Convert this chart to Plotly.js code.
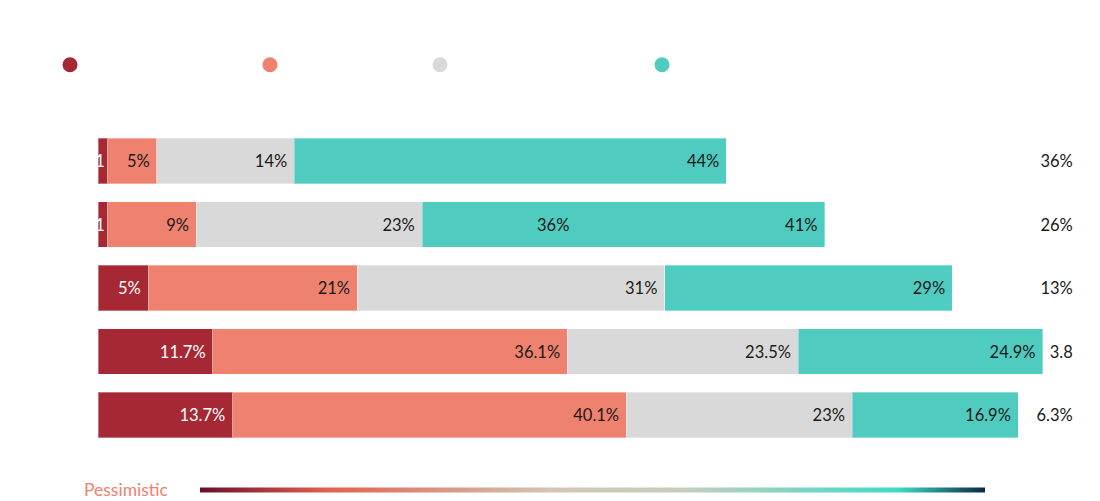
<!DOCTYPE html>
<html>
<head>
<meta charset="utf-8">
<script src="https://cdn.plot.ly/plotly-3.0.1.min.js"></script>
<style>html,body{margin:0;padding:0;background:#fff;}#chart{width:1100px;height:501px;}</style>
</head>
<body>
<div id="chart"></div>
<script>
// ---- data ----
const rows = ["Group 1", "Group 2", "Group 3", "Group 4", "Group 5"];
const seriesNames = ["Very pessimistic", "Pessimistic", "Neutral", "Optimistic"];
const veryPessimistic = [1, 1, 5.1, 11.7, 13.7];
const pessimistic = [5, 9, 21.3, 36.1, 40.1];
const neutral = [14, 23, 31.3, 23.5, 23];
const optimistic = [44, 41, 29.3, 24.9, 16.9];
const remainder = [36, 26, 13, 3.8, 6.3];
const veryPessimisticLabels = ["1", "1", "5%", "11.7%", "13.7%"];
const pessimisticLabels = ["5%", "9%", "21%", "36.1%", "40.1%"];
const neutralLabels = ["14%", "23%", "31%", "23.5%", "23%"];
const optimisticLabels = ["44%", "41%", "29%", "24.9%", "16.9%"];
const remainderLabels = ["36%", "26%", "13%", "3.8", "6.3%"];
// extra label that appears inside the teal bar of the second row
const extraLabelText = "36%";
const extraLabelRow = 1;
const extraLabelValue = 48.2;
const scaleLabel = "Pessimistic";

// ---- styles ----
const colors = ["#a52834", "#ee826e", "#d9d9d9", "#4fcbc0"];
const FONT = "Lato, 'Open Sans', sans-serif";
const LABEL_SIZE = 16.5;
const W = 1100, H = 501;
const PAD = "\u00a0";

function barTrace(vals, labels, color, textColor, name, padded) {
  return {
    type: "bar", orientation: "h", y: rows, x: vals,
    text: labels.map((t, i) => padded[i] ? t + PAD : t), name: name,
    textposition: "inside", insidetextanchor: "end", constraintext: "none",
    textangle: 0, cliponaxis: false,
    insidetextfont: {color: textColor, size: LABEL_SIZE, family: FONT},
    marker: {color: color, line: {color: "rgba(255,255,255,0.35)", width: 1}},
    showlegend: false, hoverinfo: "skip"
  };
}
const all = rows.map(() => true);
const data = [
  barTrace(veryPessimistic, veryPessimisticLabels, colors[0], "#ffffff", seriesNames[0], veryPessimistic.map(v => v > 3)),
  barTrace(pessimistic, pessimisticLabels, colors[1], "#1a1a1a", seriesNames[1], all),
  barTrace(neutral, neutralLabels, colors[2], "#1a1a1a", seriesNames[2], all),
  barTrace(optimistic, optimisticLabels, colors[3], "#1a1a1a", seriesNames[3], all),
  barTrace(remainder, remainderLabels, "rgba(255,255,255,0)", "#1a1a1a", "Other", all)
];
data[4].marker.line.width = 0;

// legend dots (one legend per item so each can sit at its own place)
const legendX = [70, 270, 440, 662];
const legendIds = ["legend", "legend2", "legend3", "legend4"];
seriesNames.forEach((n, i) => {
  data.push({
    type: "scatter", mode: "markers", x: [null], y: [null], name: n,
    marker: {color: colors[i], size: 15, symbol: "circle"},
    legend: legendIds[i], showlegend: true, hoverinfo: "skip"
  });
});

// gradient scale bar via a horizontal colorbar
data.push({
  type: "scatter", mode: "markers", x: [null, null], y: [null, null],
  showlegend: false, hoverinfo: "skip",
  marker: {
    color: [0, 1], cmin: 0, cmax: 1, showscale: true,
    colorscale: [[0, "#6a0c2d"], [0.16, "#e3604c"], [0.45, "#d2c6b6"], [0.62, "#c4cdbe"], [0.89, "#3ddbc4"], [1, "#0b2843"]],
    colorbar: {
      orientation: "h", lenmode: "pixels", len: 785, thickness: 5,
      x: (200 + 392.5) / W, xanchor: "center", y: 1 - 490 / H, yanchor: "middle",
      outlinewidth: 0, xpad: 0, ypad: 0, showticklabels: false, ticks: ""
    }
  }
});

const layout = {
  width: W, height: H,
  margin: {l: 0, r: 0, t: 0, b: 0},
  paper_bgcolor: "#ffffff", plot_bgcolor: "#ffffff",
  barmode: "stack", bargap: 0.28,
  font: {family: FONT, size: LABEL_SIZE, color: "#1a1a1a"},
  xaxis: {domain: [98 / W, 1080 / W], range: [0, 100], showgrid: false, zeroline: false,
          showticklabels: false, ticks: "", fixedrange: true},
  yaxis: {domain: [1 - 446.75 / H, 1 - 129.25 / H], autorange: "reversed", showgrid: false,
          zeroline: false, showticklabels: false, ticks: "", fixedrange: true},
  annotations: [
    {x: extraLabelValue, y: rows[extraLabelRow], xref: "x", yref: "y", text: extraLabelText,
     showarrow: false, xanchor: "right", yanchor: "middle",
     font: {size: LABEL_SIZE, color: "#1a1a1a", family: FONT}},
    {x: 82 / W, y: 1 - 489 / H, xref: "paper", yref: "paper", text: scaleLabel,
     showarrow: false, xanchor: "left", yanchor: "middle",
     font: {size: 17.5, color: "#ee826e", family: FONT}}
  ]
};
legendIds.forEach((id, i) => {
  layout[id] = {
    x: (legendX[i] - 20) / W, xanchor: "left", y: 1 - 65 / H, yanchor: "middle",
    orientation: "h", bgcolor: "rgba(0,0,0,0)",
    font: {size: 15, color: "rgba(0,0,0,0)", family: FONT}
  };
});

Plotly.newPlot("chart", data, layout, {displayModeBar: false, staticPlot: true});
</script>
</body>
</html>
